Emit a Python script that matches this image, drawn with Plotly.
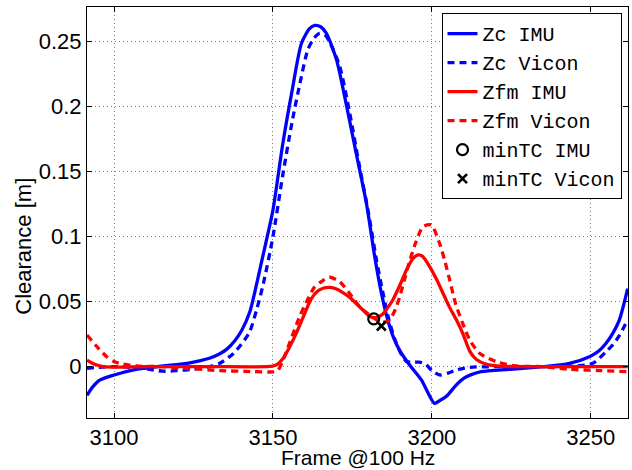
import plotly.graph_objects as go

# ---------------- data ----------------
zc_imu_x = [3091.5, 3093.5, 3095.6, 3100, 3107, 3115.5, 3123, 3130, 3133, 3135.5, 3138, 3140.2,
            3142.7, 3145, 3147, 3150, 3153, 3156, 3159, 3161.5, 3163.2, 3165, 3166.8, 3170,
            3173, 3176.2, 3179.4, 3182, 3184, 3186, 3188, 3190, 3193, 3196.7, 3200.8, 3202.5,
            3204.5, 3207.7, 3210, 3212, 3215.5, 3224.4, 3235, 3243.3, 3249.6, 3252.5, 3254.8,
            3257, 3259, 3261.6]
zc_imu_y = [-0.022, -0.015, -0.0102, -0.0064, -0.002, 0.0005, 0.0026, 0.0065, 0.0095, 0.0135, 0.020, 0.028,
            0.042, 0.065, 0.087, 0.1205, 0.170, 0.212, 0.249, 0.260, 0.2625, 0.2615, 0.2565, 0.236,
            0.2026, 0.164, 0.1257, 0.085, 0.058, 0.037, 0.022, 0.012, 0.0013, -0.0102, -0.0282, -0.026,
            -0.023, -0.014, -0.009, -0.0065, -0.0038, -0.002, 0.0, 0.0026, 0.0077, 0.012, 0.018,
            0.026, 0.036, 0.060]

zc_vicon_x = [3091.5, 3095, 3100, 3108, 3115.5, 3120, 3125, 3130, 3133.3, 3137.5, 3140, 3142.7,
              3145, 3147, 3150, 3153, 3156, 3158.5, 3161, 3163, 3164.7, 3166.5, 3168, 3171, 3174,
              3177, 3180, 3182.5, 3184.5, 3186.5, 3188.5, 3190.5, 3192, 3194, 3196, 3198, 3200,
              3202.4, 3205, 3207.7, 3212, 3220, 3230, 3245, 3250.6, 3254.8, 3257, 3259, 3261.6]
zc_vicon_y = [-0.0013, -0.0005, 0.0, -0.001, -0.0035, -0.003, -0.002, 0.0, 0.0026, 0.010, 0.017, 0.027,
              0.045, 0.064, 0.100, 0.146, 0.188, 0.218, 0.244, 0.253, 0.2565, 0.255, 0.249, 0.231, 0.197,
              0.157, 0.119, 0.083, 0.058, 0.036, 0.020, 0.009, 0.004, 0.0035, 0.0035, 0.002, -0.003,
              -0.0064, -0.005, -0.0025, -0.0005, 0.0, 0.0, 0.0005, 0.0026, 0.0115, 0.017, 0.024, 0.036]

zfm_imu_x = [3091.5, 3093, 3094.6, 3096.7, 3100, 3110, 3130, 3148, 3150, 3151.5, 3153.1, 3155,
             3157.4, 3160, 3162, 3164, 3166, 3168, 3170, 3172, 3174.1, 3176, 3178.3, 3180, 3181.5,
             3183, 3184.6, 3186, 3187.7, 3190, 3192, 3194, 3195.6, 3197, 3199.3, 3201.5, 3203.5,
             3205.5, 3207.7, 3209.7, 3212, 3214, 3217, 3222, 3235, 3261.6]
zfm_imu_y = [0.005, 0.0028, 0.0013, 0.0, -0.0003, 0.0, 0.0, 0.0, 0.0005, 0.002, 0.006, 0.014,
             0.026, 0.041, 0.052, 0.058, 0.0605, 0.061, 0.0597, 0.057, 0.0535, 0.049, 0.0436, 0.0395, 0.0378,
             0.0382, 0.0405, 0.045, 0.0513, 0.063, 0.0744, 0.083, 0.086, 0.085, 0.077, 0.067, 0.0565,
             0.046, 0.036, 0.0257, 0.0115, 0.0055, 0.002, 0.0003, 0.0, 0.0]

zfm_vicon_x = [3091.5, 3094.6, 3097.7, 3100, 3102, 3107, 3115, 3122.9, 3133.3, 3143.8, 3150, 3151.5,
               3153, 3155.2, 3158.4, 3161, 3163, 3165.2, 3167.8, 3171, 3174.1, 3177.3, 3180.4, 3183.6,
               3185.5, 3186.7, 3188.5, 3189.9, 3191.5, 3193.1, 3195, 3197.2, 3199.8, 3202.4, 3204,
               3205.6, 3207.5, 3209.7, 3211.9, 3215, 3220.3, 3226.6, 3235, 3243.3, 3252.7, 3261.6]
zfm_vicon_y = [0.0244, 0.0154, 0.0077, 0.004, 0.0024, 0.0005, 0.0, -0.0013, -0.003, -0.0038, -0.004, -0.003,
               0.004, 0.018, 0.0385, 0.052, 0.061, 0.0654, 0.0688, 0.0654, 0.0565, 0.046, 0.0398, 0.0346,
               0.0345, 0.036, 0.044, 0.054, 0.068, 0.082, 0.096, 0.1077, 0.109, 0.095, 0.082,
               0.0667, 0.048, 0.0333, 0.0205, 0.0103, 0.0038, 0.0005, 0.0, -0.002, -0.003, -0.0038]

mintc_imu_x = [3181.7]
mintc_imu_y = [0.0368]
mintc_vicon_x = [3184.1]
mintc_vicon_y = [0.0313]

x_tickvals = [3100, 3150, 3200, 3250]
x_ticktext = ["3100", "3150", "3200", "3250"]
y_tickvals = [0, 0.05, 0.1, 0.15, 0.2, 0.25]
y_ticktext = ["0", "0.05", "0.1", "0.15", "0.2", "0.25"]

x_range = [3091.5, 3261.7]
y_range = [-0.0395, 0.2767]

# ---------------- figure ----------------
BLUE = "#0000FF"
RED = "#FF0000"
LW = 3.3
DASH = "7px,5px"
SANS = "Liberation Sans, Arial, sans-serif"

fig = go.Figure()
fig.add_trace(go.Scatter(x=zc_imu_x, y=zc_imu_y, mode="lines", name="Zc IMU",
                         line=dict(color=BLUE, width=LW, shape="spline", smoothing=0.7)))
fig.add_trace(go.Scatter(x=zc_vicon_x, y=zc_vicon_y, mode="lines", name="Zc Vicon",
                         line=dict(color=BLUE, width=LW, dash=DASH, shape="spline", smoothing=0.7)))
fig.add_trace(go.Scatter(x=zfm_imu_x, y=zfm_imu_y, mode="lines", name="Zfm IMU",
                         line=dict(color=RED, width=LW, shape="spline", smoothing=0.7)))
fig.add_trace(go.Scatter(x=zfm_vicon_x, y=zfm_vicon_y, mode="lines", name="Zfm Vicon",
                         line=dict(color=RED, width=LW, dash=DASH, shape="spline", smoothing=0.7)))
fig.add_trace(go.Scatter(x=mintc_imu_x, y=mintc_imu_y, mode="markers", name="minTC IMU",
                         marker=dict(symbol="circle-open", size=11, color="black",
                                     line=dict(width=2.2, color="black"))))
fig.add_trace(go.Scatter(x=mintc_vicon_x, y=mintc_vicon_y, mode="markers", name="minTC Vicon",
                         marker=dict(symbol="x-thin", size=9, color="black",
                                     line=dict(width=2.6, color="black"))))

axis_common = dict(
    showline=True, linecolor="black", linewidth=1, mirror="ticks",
    ticks="inside", ticklen=5, tickcolor="black", tickwidth=1,
    showgrid=True, gridcolor="#808080", gridwidth=1, griddash="1px,3px",
    zeroline=False, automargin=False,
    tickfont=dict(family=SANS, size=22, color="black"),
)

fig.update_xaxes(range=x_range, tickvals=x_tickvals, ticktext=x_ticktext,
                 ticklabelstandoff=0, **axis_common)
fig.update_yaxes(range=y_range, tickvals=y_tickvals, ticktext=y_ticktext,
                 ticklabelstandoff=0, **axis_common)

fig.add_annotation(text="Clearance [m]", xref="paper", yref="paper", x=-0.117, y=0.4185,
                   xanchor="center", yanchor="middle", textangle=-90, showarrow=False,
                   font=dict(family=SANS, size=22, color="black"))
fig.add_annotation(text="Frame @100 Hz", xref="paper", yref="paper", x=0.5, y=-0.1265,
                   xanchor="center", yanchor="bottom", showarrow=False, borderpad=0,
                   font=dict(family=SANS, size=21, color="black"))

fig.update_layout(
    width=632, height=470,
    margin=dict(l=87, r=4, t=7, b=52, pad=0, autoexpand=False),
    paper_bgcolor="white", plot_bgcolor="white",
    showlegend=True,
    legend=dict(x=0.988, y=0.985, xanchor="right", yanchor="top",
                bgcolor="white", bordercolor="black", borderwidth=1,
                font=dict(family="Liberation Mono, Courier New, monospace", size=20, color="black"),
                tracegroupgap=0, itemwidth=30),
)

fig.write_html("out.html", config={"displayModeBar": False},
               post_script="document.body.style.margin='0';")
